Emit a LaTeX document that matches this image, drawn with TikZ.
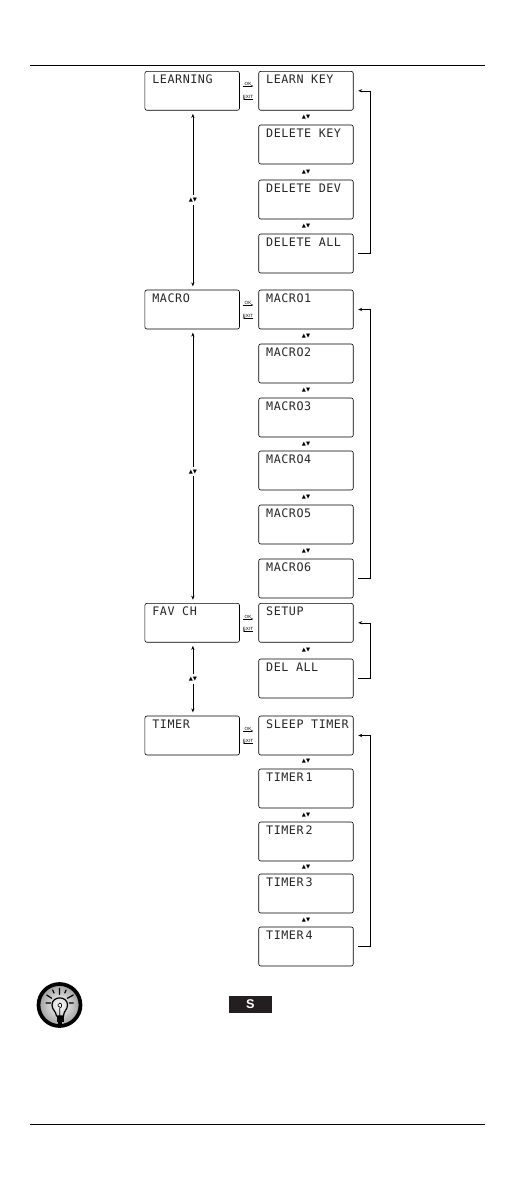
\documentclass[tikz,border=0pt]{standalone}
\usepackage{fontspec}
\usepackage{tikz}
\usetikzlibrary{arrows.meta}
\newfontfamily\lcdfont[LetterSpace=4.5]{DejaVu Sans Mono}
\newfontfamily\symfont{DejaVu Sans}
\newfontfamily\keyfont{Liberation Sans}
\newcommand{\updown}{{\symfont ▲▼}}
\definecolor{keyblack}{HTML}{231F20}

\tikzset{
	lcdbox/.style={draw, rounded corners=1.5pt, line width=0.45pt, inner sep=0pt, text width=70.9pt, text height=9pt, text depth=20.2pt, align=left, text=black!85, font=\lcdfont\fontsize{8.8}{8.8}\selectfont, execute at begin node={\spaceskip=5.7pt\hspace{5.6pt}}},
	navlabel/.style={inner sep=0pt, font=\fontsize{4}{4}\selectfont, fill=white},
	mainlabel/.style={navlabel, inner ysep=2pt},
	keylabel/.style={inner sep=0pt, inner ysep=0.5pt, minimum width=7.5pt, font=\keyfont\fontsize{3.4}{3.4}\selectfont},
	loopline/.style={-{Stealth[length=3pt,width=2.4pt]}, line width=0.45pt, shorten <=3pt, shorten >=3.5pt},
	menuline/.style={{Stealth[length=3pt,width=2.4pt]}-{Stealth[length=3pt,width=2.4pt]}, line width=0.45pt, shorten <=2.5pt, shorten >=2.5pt},
	keyarrow/.style={-{Stealth[length=1.6pt,width=1.3pt]}, line width=0.4pt},
}

\begin{document}
\begin{tikzpicture}[x=0.75pt,y=-0.75pt]
	\useasboundingbox (0,0) rectangle (528,1190);

	% page rules
	\draw[line width=0.6pt] (30,65) -- (485,65);
	\draw[line width=0.6pt] (30,1124) -- (485,1124);

	% main menu
	\node[lcdbox] (learning) at (192.2,90.8) {LEARNING};
	\node[lcdbox] (macro) at (192.2,309.5) {MACRO};
	\node[lcdbox] (favch) at (192.2,622.8) {FAV CH};
	\node[lcdbox] (timer) at (192.2,735.5) {TIMER};

	% sub menus
	\node[lcdbox] (learnkey) at (306,90.8) {LEARN KEY};
	\node[lcdbox] (deletekey) at (306,144.5) {DELETE KEY};
	\node[lcdbox] (deletedev) at (306,199.5) {DELETE DEV};
	\node[lcdbox] (deleteall) at (306,253.5) {DELETE ALL};

	\node[lcdbox] (macroa) at (306,309.5) {MACRO1};
	\node[lcdbox] (macrob) at (306,363.5) {MACRO2};
	\node[lcdbox] (macroc) at (306,417.5) {MACRO3};
	\node[lcdbox] (macrod) at (306,470.5) {MACRO4};
	\node[lcdbox] (macroe) at (306,524.5) {MACRO5};
	\node[lcdbox] (macrof) at (306,578.5) {MACRO6};

	\node[lcdbox] (setup) at (306,622.8) {SETUP};
	\node[lcdbox] (delall) at (306,678.5) {DEL ALL};

	\node[lcdbox] (sleeptimer) at (306,735.5) {SLEEP TIMER};
	\node[lcdbox] (timera) at (306,788.5) {TIMER\,1};
	\node[lcdbox] (timerb) at (306,841.5) {TIMER\,2};
	\node[lcdbox] (timerc) at (306,893.5) {TIMER\,3};
	\node[lcdbox] (timerd) at (306,946.5) {TIMER\,4};

	% up and down marks
	\node[navlabel] (udlearna) at (306,117.5) {\updown};
	\node[navlabel] (udlearnb) at (306,172) {\updown};
	\node[navlabel] (udlearnc) at (306,226.5) {\updown};
	\node[navlabel] (udmacroa) at (306,336.5) {\updown};
	\node[navlabel] (udmacrob) at (306,390.5) {\updown};
	\node[navlabel] (udmacroc) at (306,444) {\updown};
	\node[navlabel] (udmacrod) at (306,497.5) {\updown};
	\node[navlabel] (udmacroe) at (306,551.5) {\updown};
	\node[navlabel] (udfav) at (306,650) {\updown};
	\node[navlabel] (udtimera) at (306,761.5) {\updown};
	\node[navlabel] (udtimerb) at (306,815) {\updown};
	\node[navlabel] (udtimerc) at (306,867.5) {\updown};
	\node[navlabel] (udtimerd) at (306,920) {\updown};

	% main menu arrows
	\draw[menuline] ([xshift=0.5pt]learning.south) -- ([xshift=0.5pt]macro.north) node[mainlabel, midway] (udmaina) {\updown};
	\draw[menuline] ([xshift=0.5pt]macro.south) -- ([xshift=0.5pt]favch.north) node[mainlabel, pos=0.52] (udmainb) {\updown};
	\draw[menuline] ([xshift=0.5pt]favch.south) -- ([xshift=0.5pt]timer.north) node[mainlabel, midway] (udmainc) {\updown};

	% ok and exit keys
	\node[keylabel, anchor=south] (oklearn) at (248,86) {OK};
	\node[keylabel, anchor=south] (exitlearn) at (248,99) {EXIT};
	\node[keylabel, anchor=south] (okmacro) at (248,305) {OK};
	\node[keylabel, anchor=south] (exitmacro) at (248,318) {EXIT};
	\node[keylabel, anchor=south] (okfav) at (248,619) {OK};
	\node[keylabel, anchor=south] (exitfav) at (248,631) {EXIT};
	\node[keylabel, anchor=south] (oktimer) at (248,731) {OK};
	\node[keylabel, anchor=south] (exittimer) at (248,743) {EXIT};

	\draw[keyarrow] (oklearn.south west) -- (oklearn.south east);
	\draw[keyarrow] (exitlearn.south east) -- (exitlearn.south west);
	\draw[keyarrow] (okmacro.south west) -- (okmacro.south east);
	\draw[keyarrow] (exitmacro.south east) -- (exitmacro.south west);
	\draw[keyarrow] (okfav.south west) -- (okfav.south east);
	\draw[keyarrow] (exitfav.south east) -- (exitfav.south west);
	\draw[keyarrow] (oktimer.south west) -- (oktimer.south east);
	\draw[keyarrow] (exittimer.south east) -- (exittimer.south west);

	% loops back to the first entry
	\draw[loopline] (deleteall.east) -- ++(16.5,0) |- (learnkey.east);
	\draw[loopline] (macrof.east) -- ++(16.5,0) |- (macroa.east);
	\draw[loopline] (delall.east) -- ++(16.5,0) |- (setup.east);
	\draw[loopline] (timerd.east) -- ++(16.5,0) |- (sleeptimer.east);

	% hint icon
	\draw[line width=2.8pt, inner color=white, outer color=black!38] (59.5,1005) circle (21);
	\draw[line width=0.9pt, line cap=round] (46,1003) -- (50.7,1003) (46.7,995) -- (51.7,998.3) (52.7,990) -- (54,993) (59.4,988.3) -- (59.4,994.3) (66,990) -- (64.8,993) (73.3,995) -- (67.3,998.3) (73.3,1003) -- (69.3,1003);
	\draw[line width=0.9pt] (56.5,1016) .. controls (56,1011) and (52,1010) .. (52,1005) .. controls (52,995.5) and (67.5,995.5) .. (67.5,1005) .. controls (67.5,1010) and (63.5,1011) .. (63.5,1016) -- cycle;
	\draw[line width=0.5pt] (59.8,1016) -- (59.8,1008) .. controls (62,1008) and (62.5,1003) .. (59.8,1003) .. controls (57.5,1003) and (57,1006.5) .. (59.8,1007);
	\fill (56.5,1016) rectangle (63.5,1022);
	\fill (58,1022) rectangle (62,1025);

	% key symbol
	\node[fill=keyblack, text=white, minimum width=32pt, minimum height=13pt, inner sep=0pt, font=\keyfont\bfseries\fontsize{9.5}{9.5}\selectfont] (skey) at (250.4,1004.6) {S};
\end{tikzpicture}
\end{document}
